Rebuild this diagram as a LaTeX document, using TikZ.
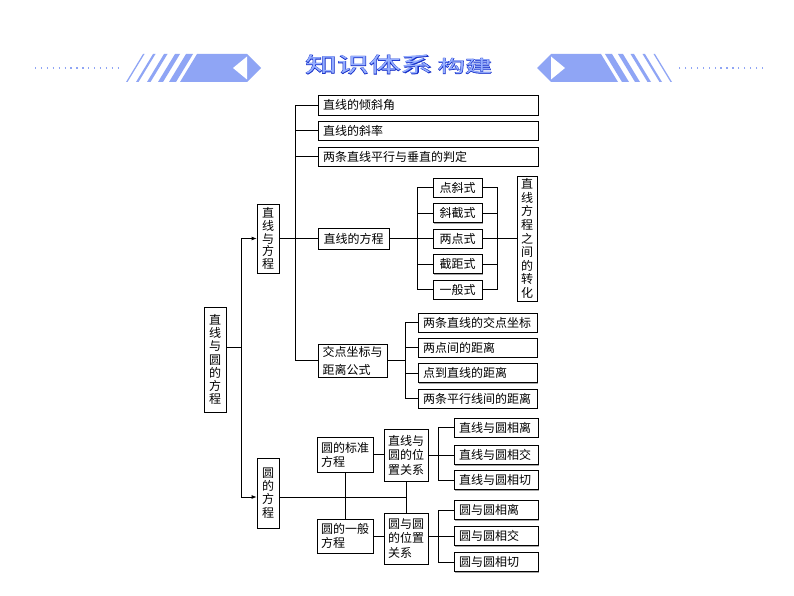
\documentclass[tikz,border=0pt]{standalone}
\usepackage{fontspec}
\setmainfont{Noto Sans CJK SC}
\newfontfamily\titlefont[FakeBold=3.5]{Noto Sans CJK SC}
\newfontfamily\titlethin{Noto Sans CJK SC}
\usetikzlibrary{arrows.meta,shadows}
\definecolor{hdr}{RGB}{143,165,245}
\definecolor{ttl}{RGB}{20,45,200}
\definecolor{ttlin}{RGB}{150,175,255}
\newcommand\mybox[7][]{%
  \pgfmathsetmacro\bw{#5-#3}\pgfmathsetmacro\bh{#6-#4}%
  \pgfmathsetmacro\bcx{(#3+#5)/2}\pgfmathsetmacro\bcy{(#4+#6)/2}%
  \node[box,minimum width=\bw pt,minimum height=\bh pt,#1] (#2) at (\bcx,\bcy) {#7};}
\newcommand\lefttext[1]{\makebox[\dimexpr\bw pt-10pt\relax][l]{#1}}
\begin{document}
\begin{tikzpicture}[x=1pt,y=-1pt,
  box/.style={draw=black,line width=0.8pt,fill=white,inner sep=0pt,
    general shadow={fill=black!35,shadow xshift=1.3pt,shadow yshift=-1.3pt},
    font=\fontsize{12}{13}\selectfont},
  vbox/.style={align=center},
  conn/.style={line width=0.8pt},
  arr/.style={conn,-{Latex[length=5pt,width=4pt]}}]
\fill[white] (0,0) rectangle (794,596);
\useasboundingbox (0,0) rectangle (794,596);

% ---------- header decoration ----------
\begin{scope}
  \draw[hdr,line width=1.3pt,dash pattern=on 1.3pt off 4.6pt] (35,68) -- (123,68);
  \foreach \xa/\w in {143/1.5,153/2.5,164/3.5,175/5,186/7}
    \fill[hdr] (\xa,54) -- ({\xa+\w},54) -- ({\xa+\w-17},82) -- ({\xa-17},82) -- cycle;
  \fill[hdr] (197,54) -- (247,54) -- (261,68) -- (247,82) -- (180,82) -- cycle;
  \fill[white] (233,68) -- (247,56.5) -- (247,79.5) -- cycle;
\end{scope}
\begin{scope}[xshift=798pt,xscale=-1]
  \draw[hdr,line width=1.3pt,dash pattern=on 1.3pt off 4.6pt] (35,68) -- (123,68);
  \foreach \xa/\w in {143/1.5,153/2.5,164/3.5,175/5,186/7}
    \fill[hdr] (\xa,54) -- ({\xa+\w},54) -- ({\xa+\w-17},82) -- ({\xa-17},82) -- cycle;
  \fill[hdr] (197,54) -- (247,54) -- (261,68) -- (247,82) -- (180,82) -- cycle;
  \fill[white] (233,68) -- (247,56.5) -- (247,79.5) -- cycle;
\end{scope}

% ---------- title ----------
\node[inner sep=0pt,text=ttl] (t1) at (369,64.5) {\titlefont\fontsize{21}{21}\selectfont\scalebox{1.52}[1]{知识体系}};
\node[inner sep=0pt,text=ttlin] (t1w) at (369,64.5) {\titlethin\fontsize{21}{21}\selectfont\scalebox{1.52}[1]{知识体系}};
\node[inner sep=0pt,text=ttl] (t2) at (465,66) {\titlefont\fontsize{17}{17}\selectfont\scalebox{1.6}[1]{构建}};
\node[inner sep=0pt,text=ttlin] (t2w) at (465,66) {\titlethin\fontsize{17}{17}\selectfont\scalebox{1.6}[1]{构建}};

% ---------- boxes ----------
\mybox[vbox,font=\fontsize{12}{13.3}\selectfont]{root}{204}{307}{226}{412}{直\\线\\与\\圆\\的\\方\\程}
\mybox[vbox,font=\fontsize{12}{12.7}\selectfont]{zx}{257}{204}{279}{273}{直\\线\\与\\方\\程}
\mybox[vbox,font=\fontsize{12}{13.3}\selectfont]{yf}{257}{458}{279}{528}{圆\\的\\方\\程}

\mybox{b1}{318}{95}{538}{115}{\lefttext{直线的倾斜角}}
\mybox{b2}{318}{121}{538}{140}{\lefttext{直线的斜率}}
\mybox{b3}{318}{147}{538}{166}{\lefttext{两条直线平行与垂直的判定}}
\mybox{b4}{318}{228}{389}{249}{直线的方程}
\mybox[align=left,font=\fontsize{12}{18}\selectfont]{b5}{318}{344}{387}{377}{交点坐标与\\距离公式}

\mybox{f1}{433}{178}{482}{197}{点斜式}
\mybox{f2}{433}{203.5}{482}{222.5}{斜截式}
\mybox{f3}{433}{229}{482}{248}{两点式}
\mybox{f4}{433}{254.5}{482}{273.5}{截距式}
\mybox{f5}{433}{280}{482}{299}{一般式}
\mybox[vbox,font=\fontsize{12}{13.6}\selectfont]{conv}{517}{176}{537}{301}{直\\线\\方\\程\\之\\间\\的\\转\\化}

\mybox{d1}{418}{313}{537}{332}{\lefttext{两条直线的交点坐标}}
\mybox{d2}{418}{338}{537}{357}{\lefttext{两点间的距离}}
\mybox{d3}{418}{363.5}{537}{382.5}{\lefttext{点到直线的距离}}
\mybox{d4}{418}{389}{537}{408}{\lefttext{两条平行线间的距离}}

\mybox[align=left,font=\fontsize{12}{14}\selectfont]{c1}{317}{437}{373}{472}{圆的标准\\方程}
\mybox[align=left,font=\fontsize{12}{14}\selectfont]{c2}{317}{519}{373}{553}{圆的一般\\方程}
\mybox[align=left,font=\fontsize{12}{14.5}\selectfont]{c3}{384}{429}{428}{481}{直线与\\圆的位\\置关系}
\mybox[align=left,font=\fontsize{12}{14.5}\selectfont]{c4}{384}{513}{428}{564}{圆与圆\\的位置\\关系}

\mybox{r1}{454}{418}{538}{437}{\lefttext{直线与圆相离}}
\mybox{r2}{454}{445.5}{538}{464.5}{\lefttext{直线与圆相交}}
\mybox{r3}{454}{470.5}{538}{489.5}{\lefttext{直线与圆相切}}
\mybox{s1}{454}{500.5}{538}{519.5}{\lefttext{圆与圆相离}}
\mybox{s2}{454}{526.5}{538}{545.5}{\lefttext{圆与圆相交}}
\mybox{s3}{454}{552.5}{538}{571.5}{\lefttext{圆与圆相切}}

% ---------- connectors ----------
\coordinate (ja) at (295,0);
\coordinate (jf1) at (417,0);
\coordinate (jf2) at (497,0);
\coordinate (jd) at (405,0);
\coordinate (jc) at (438,0);
\coordinate (jr) at (241,347);
\coordinate (ya) at (241,497);

\draw[conn] (b1.west) -- (b1.west -| ja) -- (b5.west -| ja) -- (b5.west);
\foreach \n in {b2,b3} \draw[conn] (\n.west) -- (\n.west -| ja);
\draw[conn] (zx.east) -- (b4.west);
\draw[conn] (b4.east) -- (f3.west);
\draw[conn] (f1.west) -- (f1.west -| jf1) -- (f5.west -| jf1) -- (f5.west);
\foreach \n in {f2,f4} \draw[conn] (\n.west) -- (\n.west -| jf1);
\draw[conn] (f1.east) -- (f1.east -| jf2) -- (f5.east -| jf2) -- (f5.east);
\foreach \n in {f2,f4} \draw[conn] (\n.east) -- (\n.east -| jf2);
\draw[conn] (f3.east) -- (conv.west);
\draw[conn] (b5.east) -- (b5.east -| jd);
\draw[conn] (d1.west) -- (d1.west -| jd) -- (d4.west -| jd) -- (d4.west);
\foreach \n in {d2,d3} \draw[conn] (\n.west) -- (\n.west -| jd);

\draw[conn] (root.east |- jr) -- (jr);
\draw[conn] (zx.west -| jr) -- (ya);
\draw[arr] (zx.west -| jr) -- (zx.west);
\draw[arr] (ya) -- (ya -| yf.west);

\draw[conn] (ya -| yf.east) -- (ya -| c3.south);
\draw[conn] (c1.south) -- (c2.north);
\draw[conn] (c3.south) -- (c4.north);
\draw[conn] (c1.east) -- (c1.east -| c3.west);
\draw[conn] (c2.east) -- (c2.east -| c4.west);
\draw[conn] (c3.east) -- (r2.west);
\draw[conn] (r1.west) -- (r1.west -| jc) -- (r3.west -| jc) -- (r3.west);
\draw[conn] (c4.east |- s2.west) -- (s2.west);
\draw[conn] (s1.west) -- (s1.west -| jc) -- (s3.west -| jc) -- (s3.west);
\end{tikzpicture}
\end{document}
